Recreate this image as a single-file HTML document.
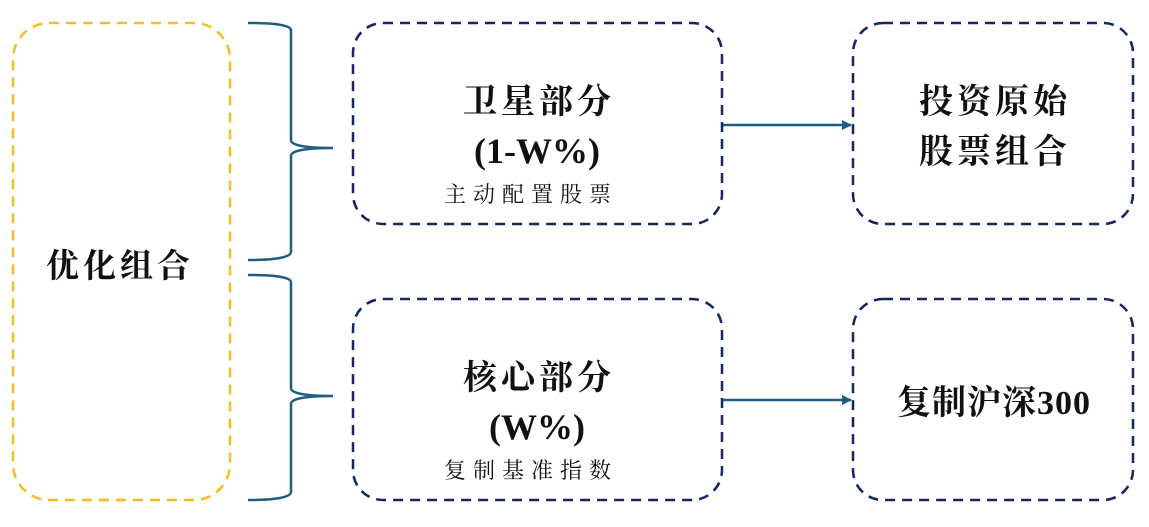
<!DOCTYPE html>
<html><head><meta charset="utf-8"><style>
body{margin:0;background:#fff;width:1149px;height:522px;overflow:hidden}
svg text{font-family:"Liberation Serif","Noto Serif CJK SC",serif;fill:#111}
</style></head><body>
<svg width="1149" height="522" viewBox="0 0 1149 522">
<defs><marker id="a" markerWidth="10" markerHeight="10" refX="9" refY="5" orient="auto" markerUnits="userSpaceOnUse"><path d="M0,0 L10,5 L0,10 Z" fill="#1f5e80"/></marker></defs>
<rect x="13" y="23" width="217" height="477" rx="36" fill="none" stroke="#f5bd1f" stroke-width="2.5" stroke-dasharray="10,7"/>
<g fill="none" stroke="#1f5e80" stroke-width="2.5">
<path d="M248,23 Q290,23 291,30 L291,140 Q291,148 333,148 Q291,148 291,156 L291,252 Q290,260 248,260"/>
<path d="M248,275 Q290,275 291,282 L291,388 Q291,396 333,396 Q291,396 291,404 L291,492 Q290,500 248,500"/>
<line x1="722" y1="125" x2="851" y2="125" marker-end="url(#a)"/>
<line x1="722" y1="400" x2="851" y2="400" marker-end="url(#a)"/>
</g>
<g fill="none" stroke="#14275e" stroke-width="2.5" stroke-dasharray="10,7">
<rect x="353" y="23" width="369" height="201" rx="30"/>
<rect x="353" y="299" width="369" height="201" rx="30"/>
<rect x="853" y="23" width="280" height="201" rx="30"/>
<rect x="853" y="299" width="280" height="201" rx="30"/>
</g>
<text x="120" y="277" font-size="33" text-anchor="middle" font-weight="bold" letter-spacing="4">优化组合</text>
<text x="539" y="113" font-size="34" text-anchor="middle" font-weight="bold" letter-spacing="4">卫星部分</text>
<text x="537" y="163" font-size="36" text-anchor="middle" font-weight="bold">(1-W%)</text>
<text x="531" y="202" font-size="22" text-anchor="middle" letter-spacing="7">主动配置股票</text>
<text x="539" y="389" font-size="34" text-anchor="middle" font-weight="bold" letter-spacing="4">核心部分</text>
<text x="537" y="439" font-size="36" text-anchor="middle" font-weight="bold">(W%)</text>
<text x="531" y="478" font-size="22" text-anchor="middle" letter-spacing="7">复制基准指数</text>
<text x="995" y="113" font-size="34" text-anchor="middle" font-weight="bold" letter-spacing="4">投资原始</text>
<text x="995" y="163" font-size="34" text-anchor="middle" font-weight="bold" letter-spacing="4">股票组合</text>
<text x="994" y="414" font-size="34" text-anchor="middle" font-weight="bold" letter-spacing="1">复制沪深300</text>
</svg>
</body></html>
